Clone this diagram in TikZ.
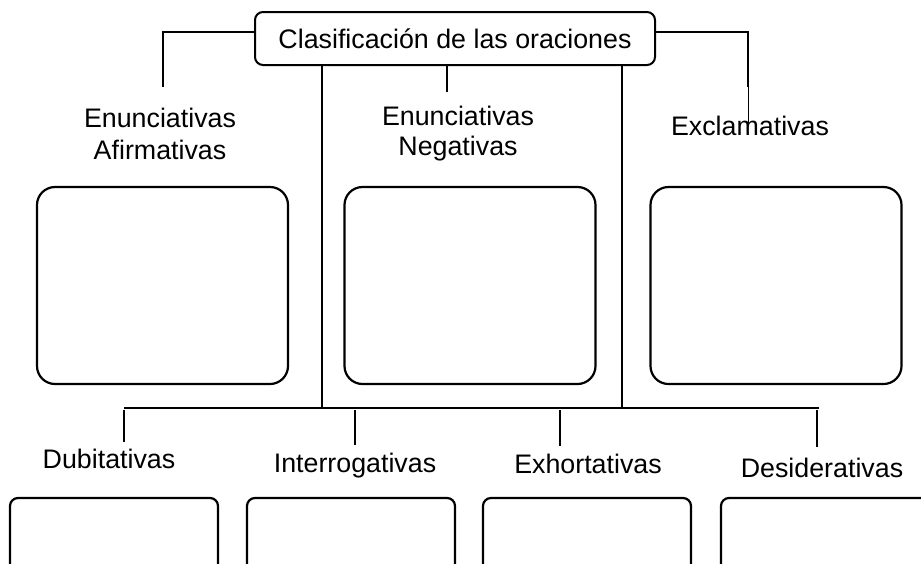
\documentclass[tikz,border=0pt]{standalone}
\usepackage{fontspec}
\setmainfont{Liberation Sans}
\begin{document}
\begin{tikzpicture}[x=1pt,y=-1pt,
  lbl/.style={inner sep=0pt,font=\fontsize{26.8}{30}\selectfont,align=center},
  lbltwo/.style={inner sep=0pt,font=\fontsize{26.8}{32}\selectfont,align=center},
  titlebox/.style={draw,line width=2pt,rounded corners=8pt,minimum width=400pt,minimum height=53pt,inner sep=0pt,font=\fontsize{26.8}{30}\selectfont},
  bigbox/.style={draw,line width=2.2pt,rounded corners=18pt,minimum width=251pt,minimum height=197pt,inner sep=0pt},
  smallbox/.style={draw,line width=2.2pt,rounded corners=8pt,minimum width=208pt,minimum height=120pt,inner sep=0pt},
  conn/.style={line width=2pt},
  thinconn/.style={line width=1pt}]
\useasboundingbox (0,0) rectangle (921,563);
% title
\node[titlebox] (title) at (455,38.5) {Clasificación de las oraciones};
% top labels
\node[lbltwo] (afirm) at (160,134) {Enunciativas\\Afirmativas};
\node[lbl] (negat) at (458,134) {Enunciativas\\Negativas};
\node[lbl,anchor=base] (excl) at (750,135) {Exclamativas};
% big boxes
\node[bigbox] (b1) at (162.5,285.5) {};
\node[bigbox] (b2) at (470,285.5) {};
\node[bigbox] (b3) at (776,285.5) {};
% bottom labels
\node[lbl,anchor=base] (dub) at (109,468) {Dubitativas};
\node[lbl,anchor=base] (inter) at (355,472) {Interrogativas};
\node[lbl,anchor=base] (exh) at (588,473) {Exhortativas};
\node[lbl,anchor=base] (des) at (822,477) {Desiderativas};
% bottom boxes
\node[smallbox] (s1) at (114,558) {};
\node[smallbox] (s2) at (351,558) {};
\node[smallbox] (s3) at (587,558) {};
\node[smallbox] (s4) at (825,558) {};
% connector coordinates
\coordinate (lcorner) at (163,32);
\coordinate (lend) at (163,87);
\coordinate (rcorner) at (748,32);
\coordinate (rend) at (748,87);
\coordinate (rthin) at (748,123);
\coordinate (mend) at (447,92);
\coordinate (v1) at (322,408);
\coordinate (v2) at (622,408);
\coordinate (hl) at (124,408);
\coordinate (hr) at (819,408);
\coordinate (d1a) at (124,410);
\coordinate (d1b) at (124,442);
\coordinate (d2a) at (355,410);
\coordinate (d2b) at (355,445);
\coordinate (d3a) at (560,410);
\coordinate (d3b) at (560,446);
\coordinate (d4a) at (817,410);
\coordinate (d4b) at (817,447);
% connectors
\draw[conn] (title.west |- lcorner) -- (lcorner) -- (lend);
\draw[conn] (title.east |- rcorner) -- (rcorner) -- (rend);
\draw[thinconn] (rend) -- (rthin);
\draw[conn] (title.south -| mend) -- (mend);
\draw[conn] (title.south -| v1) -- (v1);
\draw[conn] (title.south -| v2) -- (v2);
\draw[conn] (hl) -- (hr);
\draw[conn] (d1a) -- (d1b);
\draw[conn] (d2a) -- (d2b);
\draw[conn] (d3a) -- (d3b);
\draw[conn] (d4a) -- (d4b);
\end{tikzpicture}
\end{document}
